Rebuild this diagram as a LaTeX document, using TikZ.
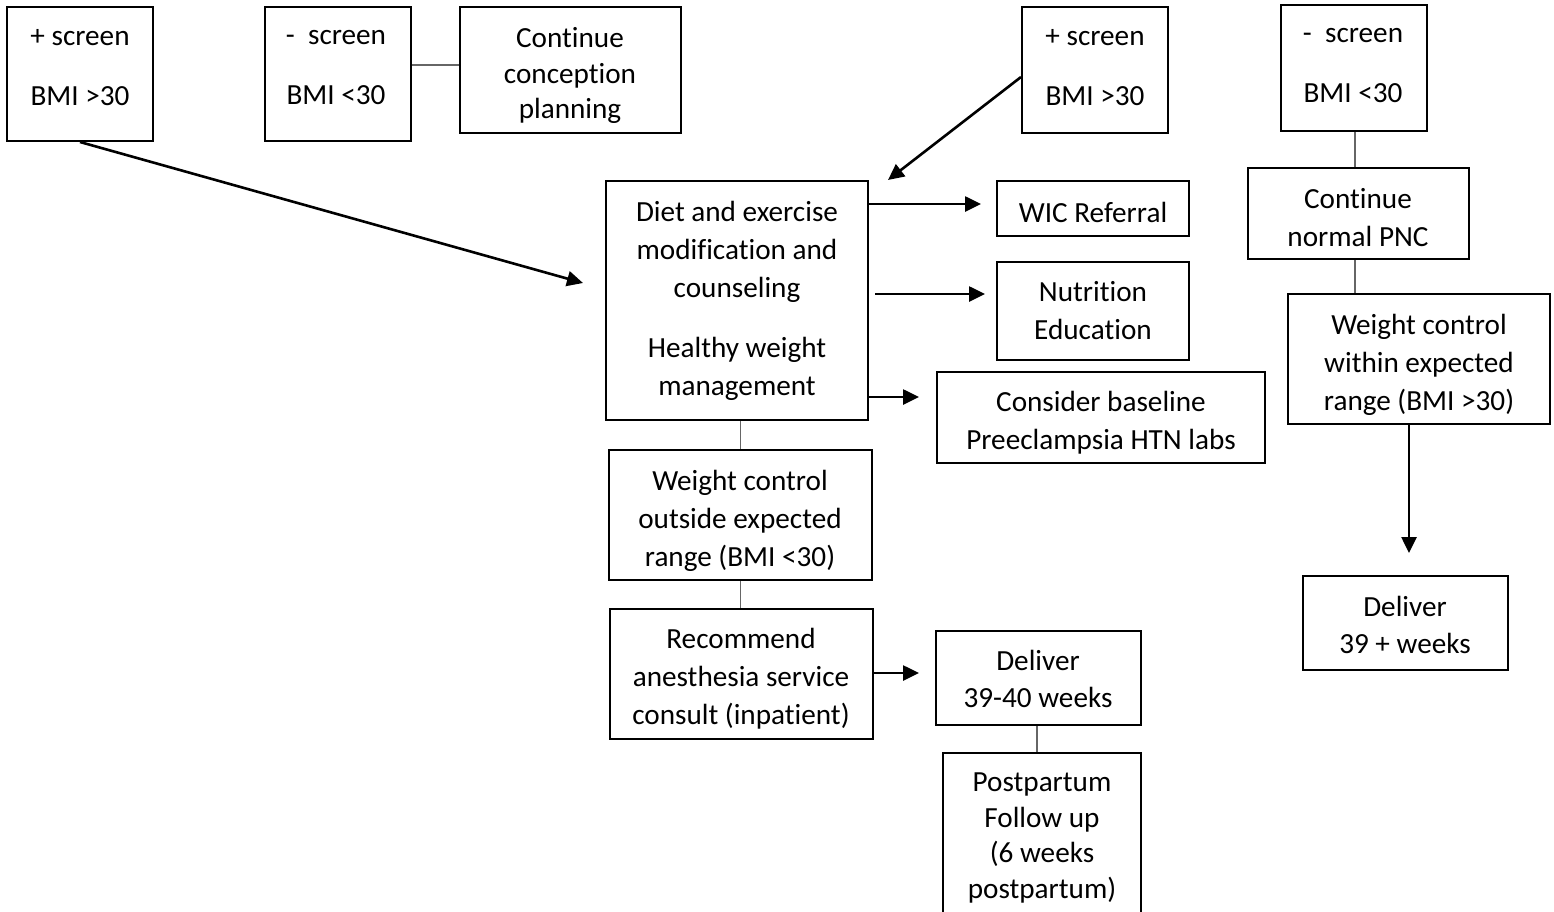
\documentclass[tikz,border=0pt]{standalone}
\usepackage{fontspec}
\setmainfont{Carlito}[Ligatures=NoCommon]
\usetikzlibrary{fit,arrows.meta}
\begin{document}
\begin{tikzpicture}[x=0.5pt,y=-0.5pt,
  box/.style={draw=black,line width=1pt,inner sep=0pt},
  txt/.style={align=center,inner sep=0pt,yshift=-3pt,font=\fontsize{14.6}{19}\selectfont,
    execute at begin node=\strut,execute at end node=\strut},
  tight/.style={font=\fontsize{14.6}{17.9}\selectfont},
  link/.style={draw=black!60,line width=0.6pt},
  arr/.style={draw=black,line width=1.3pt,-{Triangle[length=8pt,width=7.5pt]}}]
\useasboundingbox (0,0) rectangle (1554,911);
\clip (0,0) rectangle (1554,911);

% boxes
\node[box,fit={(7,7)(153,141)}] (A) {};
\node[box,fit={(265,7)(411,141)}] (B) {};
\node[box,fit={(460,7)(681,133)}] (C) {};
\node[box,fit={(1022,7)(1168,133)}] (D) {};
\node[box,fit={(1281,5)(1427,131)}] (E) {};
\node[box,fit={(606,181)(868,420)}] (F) {};
\node[box,fit={(997,181)(1189,236)}] (G) {};
\node[box,fit={(997,262)(1189,360)}] (H) {};
\node[box,fit={(937,372)(1265,463)}] (I) {};
\node[box,fit={(609,450)(872,580)}] (J) {};
\node[box,fit={(610,609)(873,739)}] (K) {};
\node[box,fit={(936,631)(1141,725)}] (L) {};
\node[box,fit={(943,753)(1141,930)}] (M) {};
\node[box,fit={(1248,168)(1469,259)}] (N) {};
\node[box,fit={(1288,294)(1550,424)}] (O) {};
\node[box,fit={(1303,576)(1508,670)}] (P) {};

% texts
\node[txt] (At) at (80,67) {+ screen\\[11pt]BMI >30};
\node[txt] (Bt) at (336,67) {-\ \ screen\\[11pt]BMI <30};
\node[txt,tight] (Ct) at (570,72.5) {Continue\\conception\\planning};
\node[txt] (Dt) at (1095,67) {+ screen\\[11pt]BMI >30};
\node[txt] (Et) at (1353,65) {-\ \ screen\\[11pt]BMI <30};
\node[txt] (Ft) at (737,298) {Diet and exercise\\modification and\\counseling\\[11pt]Healthy weight\\management};
\node[txt] (Gt) at (1093,209) {WIC Referral};
\node[txt] (Ht) at (1093,310.5) {Nutrition\\Education};
\node[txt] (It) at (1101,420.5) {Consider baseline\\Preeclampsia HTN labs};
\node[txt] (Jt) at (740,518.5) {Weight control\\outside expected\\range (BMI <30)};
\node[txt] (Kt) at (741,676.5) {Recommend\\anesthesia service\\consult (inpatient)};
\node[txt,font=\fontsize{14.6}{18.5}\selectfont] (Lt) at (1038,678.5) {Deliver\\39-40 weeks};
\node[txt,tight] (Mt) at (1042,835) {Postpartum\\Follow up\\(6 weeks\\postpartum)};
\node[txt] (Nt) at (1358,217) {Continue\\normal PNC};
\node[txt] (Ot) at (1419,362.5) {Weight control\\within expected\\range (BMI >30)};
\node[txt,font=\fontsize{14.6}{18.5}\selectfont] (Pt) at (1405,624.5) {Deliver\\39 + weeks};

% free arrow ends
\coordinate (a1) at (583,283);
\coordinate (d1) at (888,180);
\coordinate (g1) at (981,204);
\coordinate (h1) at (985,294);
\coordinate (i1) at (919,397);
\coordinate (l1) at (919,673);
\coordinate (p1) at (1409,553);

% connectors
\draw[link] (B.east |- 0,65) -- (C.west |- 0,65);
\draw[arr] (A.south) -- (a1);
\draw[arr] (D.west |- 0,77) -- (d1);
\draw[arr] (F.east |- g1) -- (g1);
\draw[arr,shorten <=3pt] (F.east |- h1) -- (h1);
\draw[arr] (F.east |- i1) -- (i1);
\draw[link] (J.north |- F.south) -- (J.north);
\draw[link] (J.south) -- (J.south |- K.north);
\draw[arr] (K.east |- l1) -- (l1);
\draw[link] (L.south -| 1037,0) -- (M.north -| 1037,0);
\draw[link] (E.south -| 1355,0) -- (N.north -| 1355,0);
\draw[link] (N.south -| 1355,0) -- (O.north -| 1355,0);
\draw[arr] (p1 |- O.south) -- (p1);
\end{tikzpicture}
\end{document}
